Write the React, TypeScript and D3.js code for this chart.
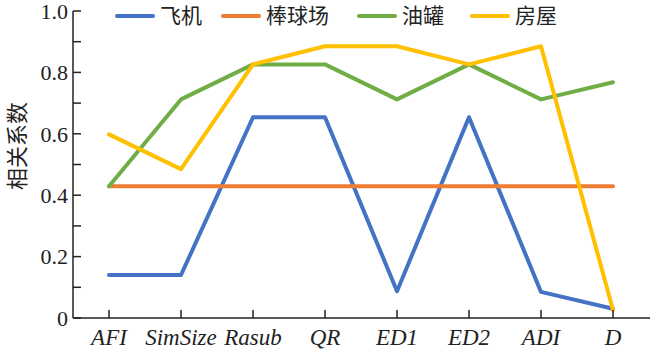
import React from 'react';
import * as d3 from 'd3';

const categories = ['AFI', 'SimSize', 'Rasub', 'QR', 'ED1', 'ED2', 'ADI', 'D'];
const planeValues = [0.14, 0.14, 0.654, 0.654, 0.087, 0.654, 0.085, 0.03];
const baseballValues = [0.429, 0.429, 0.429, 0.429, 0.429, 0.429, 0.429, 0.429];
const tankValues = [0.429, 0.712, 0.826, 0.826, 0.712, 0.826, 0.712, 0.768];
const houseValues = [0.598, 0.485, 0.826, 0.885, 0.885, 0.826, 0.885, 0.026];
const seriesNames = ['飞机', '棒球场', '油罐', '房屋'];
const yTicks = [0, 0.2, 0.4, 0.6, 0.8, 1.0];
const yMinorTicks = [0.1, 0.3, 0.5, 0.7, 0.9];

const colors = ['#4472C4', '#ED7D31', '#70AD47', '#FFC000'];
const legendX = [117, 223, 359, 472];

const left = 73;
const top = 11;
const bottom = 318;

const x = d3.scalePoint<string>().domain(categories).range([109, 613]);
const y = d3.scaleLinear().domain([0, 1]).range([bottom, top]);

const line = d3.line<number>()
  .x((_, i) => x(categories[i]) as number)
  .y(d => y(d));

const App = () => {
  const series = [planeValues, baseballValues, tankValues, houseValues];
  return (
    <svg width={650} height={352} style={{ position: 'absolute', left: 0, top: 0, background: '#fff' }}>
      {series.map((vals, i) => (
        <path key={i} d={line(vals) || ''} fill="none" stroke={colors[i]} strokeWidth={4}
          strokeLinejoin="round" strokeLinecap="round" />
      ))}

      {/* y axis */}
      <line x1={left} x2={left} y1={y(1)} y2={y(0)} stroke="#222" strokeWidth={1.5} />
      {[...yTicks, ...yMinorTicks].map(t => (
        <line key={'t' + t} x1={left} x2={left + 8} y1={y(t)} y2={y(t)} stroke="#222" strokeWidth={1.5} />
      ))}
      {yTicks.map(t => (
        <text key={'l' + t} x={left - 5} y={y(t)} dy="0.35em" textAnchor="end"
          fontFamily="Liberation Serif" fontSize={22} fill="#222">
          {t === 0 ? '0' : t.toFixed(1)}
        </text>
      ))}

      {/* x axis */}
      <line x1={left} x2={650} y1={bottom} y2={bottom} stroke="#222" strokeWidth={1.5} />
      {categories.map(c => (
        <g key={c}>
          <line x1={x(c)} x2={x(c)} y1={bottom} y2={bottom - 8} stroke="#222" strokeWidth={1.5} />
          <text x={x(c)} y={345} textAnchor="middle" fontFamily="Liberation Serif"
            fontStyle="italic" fontSize={23} fill="#222">{c}</text>
        </g>
      ))}

      {/* y title */}
      <text transform="translate(25,146) rotate(-90)" textAnchor="middle"
        fontFamily="Noto Sans CJK SC" fontSize={22} fill="#222">相关系数</text>

      {/* legend */}
      {seriesNames.map((name, i) => (
        <g key={name}>
          <line x1={legendX[i]} x2={legendX[i] + 36} y1={16} y2={16} stroke={colors[i]}
            strokeWidth={4} strokeLinecap="round" />
          <text x={legendX[i] + 43} y={16} dy="0.35em" fontFamily="Noto Sans CJK SC"
            fontSize={21} fill="#222">{name}</text>
        </g>
      ))}
    </svg>
  );
};

export default App;
